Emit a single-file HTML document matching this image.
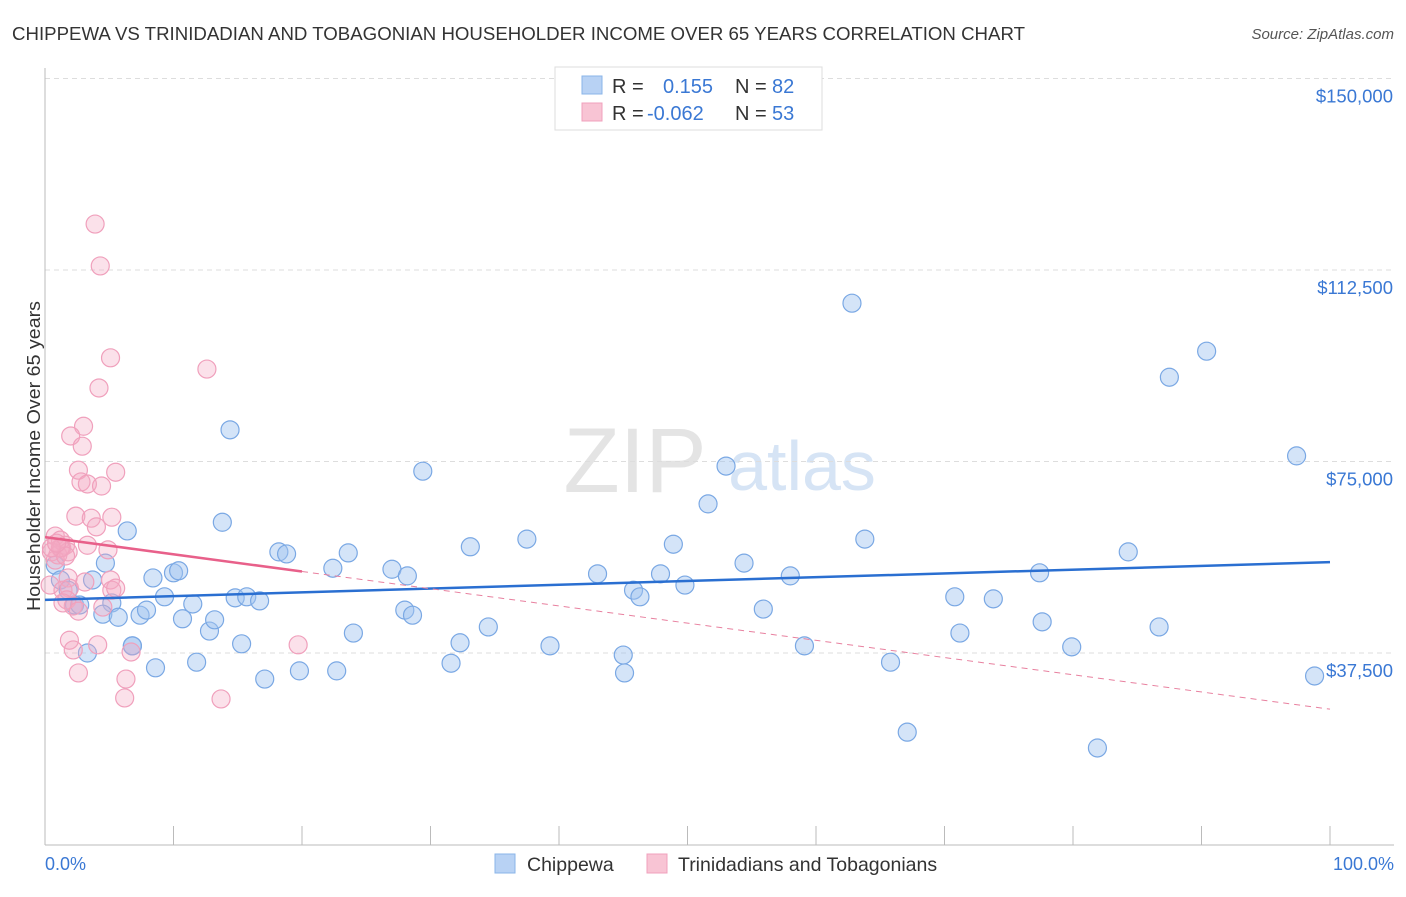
<!DOCTYPE html>
<html><head><meta charset="utf-8"><style>
body{margin:0;background:#fff;font-family:"Liberation Sans",sans-serif;}
svg text{font-family:"Liberation Sans",sans-serif;}
</style></head><body>
<svg id="chart" width="1406" height="892">
<text x="12" y="40" font-size="18.5" fill="#333" textLength="1013" lengthAdjust="spacingAndGlyphs">CHIPPEWA VS TRINIDADIAN AND TOBAGONIAN HOUSEHOLDER INCOME OVER 65 YEARS CORRELATION CHART</text>
<text x="1394" y="39" font-size="15" fill="#555" font-style="italic" text-anchor="end">Source: ZipAtlas.com</text>
<text x="635" y="492" font-size="92" fill="#e4e4e4" font-family="Liberation Serif" text-anchor="middle">ZIP</text>
<text x="802" y="490" font-size="70" fill="#d6e4f5" text-anchor="middle">atlas</text>
<g id="grid"></g><g id="axes"></g><g id="pts"></g><g id="trend"></g>
<text x="34" y="462" font-size="18" fill="#333" transform="rotate(-90 34 456)" text-anchor="middle" textLength="310" lengthAdjust="spacingAndGlyphs">Householder Income Over 65 years</text>
<text x="45" y="870" font-size="18" fill="#3a78d4">0.0%</text>
<text x="1394" y="870" font-size="18" fill="#3a78d4" text-anchor="end">100.0%</text>
<g>
<rect x="555" y="67" width="267" height="63" fill="#fff" stroke="#ddd"/>
<rect x="582" y="76" width="20" height="18" fill="#b8d2f4" stroke="#8ab4e8"/>
<rect x="582" y="103" width="20" height="18" fill="#f8c4d4" stroke="#f0a0bc"/>
<text x="612" y="93" font-size="20" fill="#333">R =</text><text x="663" y="93" font-size="20" fill="#3a78d4">0.155</text>
<text x="735" y="93" font-size="20" fill="#333">N =</text><text x="772" y="93" font-size="20" fill="#3a78d4">82</text>
<text x="612" y="120" font-size="20" fill="#333">R =</text><text x="647" y="120" font-size="20" fill="#3a78d4">-0.062</text>
<text x="735" y="120" font-size="20" fill="#333">N =</text><text x="772" y="120" font-size="20" fill="#3a78d4">53</text>
</g>
<g>
<rect x="495" y="854" width="20" height="19" fill="#b8d2f4" stroke="#8ab4e8"/>
<text x="527" y="871" font-size="19.5" fill="#333">Chippewa</text>
<rect x="647" y="854" width="20" height="19" fill="#f8c4d4" stroke="#f0a0bc"/>
<text x="678" y="871" font-size="19.5" fill="#333">Trinidadians and Tobagonians</text>
</g>
</svg>
<script>
const yTicks=[37500,75000,112500,150000];
const yTickLabels=["$37,500","$75,000","$112,500","$150,000"];
const xTicks=[0,10,20,30,40,50,60,70,80,90,100];
const blueX=[0.8,1.2,1.8,2.3,2.7,3.3,3.7,4.7,5.2,4.5,5.7,6.4,6.8,7.4,7.9,8.4,8.6,9.3,10.0,10.4,10.7,11.8,11.5,12.8,13.2,13.8,14.4,14.8,15.3,15.7,16.7,17.1,18.2,18.8,19.8,22.4,22.7,23.6,24.0,27.0,28.0,28.2,28.6,29.4,31.6,32.3,33.1,34.5,37.5,39.3,43.0,45.0,45.1,45.8,46.3,47.9,48.9,49.8,51.6,53.0,54.4,55.9,58.0,59.1,62.8,63.8,65.8,67.1,70.8,71.2,73.8,77.4,77.6,79.9,81.9,84.3,86.7,87.5,90.4,97.4,98.8,6.8];
const blueY=[54700,51800,49800,46900,46900,37500,51800,55100,47300,45100,44500,61400,38900,44900,45900,52200,34600,48500,53200,53600,44200,35700,47100,41800,44000,63100,81200,48300,39300,48500,47700,32400,57300,56900,34000,54100,34000,57100,41400,53900,45900,52600,44900,73100,35500,39500,58300,42600,59800,38900,53000,37100,33600,49800,48500,53000,58800,50800,66700,74100,55100,46100,52600,38900,106000,59800,35700,22000,48500,41400,48100,53200,43600,38700,18900,57300,42600,91500,96600,76100,33000,38900];
const pinkX=[3.9,4.3,5.1,4.2,12.6,3.0,2.0,2.9,2.6,5.5,2.8,3.3,4.4,2.4,3.6,5.2,4.0,3.3,4.9,0.8,1.2,1.6,0.5,1.0,1.3,1.8,0.8,0.4,1.8,1.4,1.9,5.1,5.2,3.1,1.7,2.2,1.4,2.6,4.5,1.9,4.1,2.2,6.7,19.7,2.6,6.3,6.2,13.7,5.5,1.2,1.6,0.5,0.9];
const pinkY=[121500,113300,95300,89400,93100,81900,80000,78000,73300,72900,71000,70600,70200,64300,63900,64100,62200,58600,57700,60400,59600,58600,57300,56700,58100,57300,55700,50800,52200,49800,50200,51800,49800,51400,47900,46700,47300,45700,46500,40000,39100,38100,37700,39100,33600,32400,28700,28500,50200,58100,56500,58100,59000];
const blueTrend=[47900,55300];
const pinkTrend=[60200,26500];
const pinkSolidEnd=20;
const NS="http://www.w3.org/2000/svg";
const xs=p=>45+p*12.85;
const ys=v=>653-(v-37500)/37500*191.5;
function mk(tag,attrs,parent){const e=document.createElementNS(NS,tag);for(const k in attrs)e.setAttribute(k,attrs[k]);document.getElementById(parent).appendChild(e);return e;}
yTicks.forEach((t,i)=>{
 const l=mk('line',{x1:45,x2:1394,y1:ys(t),y2:ys(t),stroke:'#ddd','stroke-dasharray':'5,4'},'grid');
 
 
 const tx=mk('text',{x:1393,y:ys(t)+24,'font-size':18.5,fill:'#3a78d4','text-anchor':'end'},'grid');
 tx.textContent=yTickLabels[i];
 
 
});
const ax=mk('line',{x1:45,x2:1394,y1:845,y2:845,stroke:'#bbb'},'axes');


const ay=mk('line',{x1:45,x2:45,y1:68,y2:845,stroke:'#bbb'},'axes');


xTicks.forEach(t=>{const l=mk('line',{x1:xs(t),x2:xs(t),y1:826,y2:845,stroke:'#bbb'},'axes');
 
 });
blueX.forEach((x,i)=>{const c=mk('circle',{cx:xs(x),cy:ys(blueY[i]),r:9,fill:'rgba(160,196,240,0.45)',stroke:'#7aa8e4','stroke-width':1.2},'pts');
 
 });
pinkX.forEach((x,i)=>{const c=mk('circle',{cx:xs(x),cy:ys(pinkY[i]),r:9,fill:'rgba(244,170,196,0.35)',stroke:'#f0a0bc','stroke-width':1.2},'pts');
 
 });
const bt=mk('line',{x1:xs(0),y1:ys(blueTrend[0]),x2:xs(100),y2:ys(blueTrend[1]),stroke:'#2a6fd1','stroke-width':2.5},'trend');


const pAt=p=>pinkTrend[0]+(pinkTrend[1]-pinkTrend[0])*p/100;
const pt=mk('line',{x1:xs(0),y1:ys(pinkTrend[0]),x2:xs(pinkSolidEnd),y2:ys(pAt(pinkSolidEnd)),stroke:'#e8608a','stroke-width':2.5},'trend');


const pd=mk('line',{x1:xs(pinkSolidEnd),y1:ys(pAt(pinkSolidEnd)),x2:xs(100),y2:ys(pinkTrend[1]),stroke:'#e8809f','stroke-width':1,'stroke-dasharray':'6,5'},'trend');


</script>
</body></html>
